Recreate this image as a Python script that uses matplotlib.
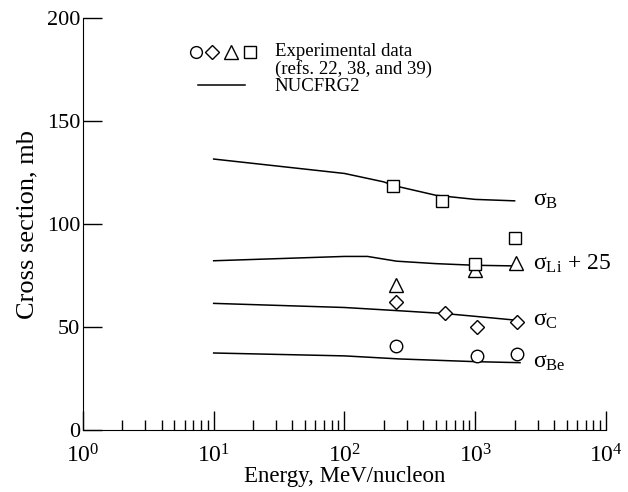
import matplotlib
matplotlib.use('Agg')
import matplotlib.pyplot as plt
from matplotlib.ticker import LogLocator, NullFormatter

plt.rcParams['font.family'] = ['Liberation Serif', 'DejaVu Serif']
plt.rcParams['mathtext.fontset'] = 'custom'
plt.rcParams['mathtext.rm'] = 'Liberation Serif'
plt.rcParams['mathtext.it'] = 'Liberation Serif'

# NUCFRG2 curves
e_b = [10, 100, 200, 235, 500, 1000, 2000]
sig_b = [131.6, 124.6, 120.5, 118.8, 114.0, 112.0, 111.3]
e_li = [10, 30, 100, 150, 250, 500, 1000, 2000]
sig_li = [82.2, 83.2, 84.3, 84.3, 82.0, 80.8, 80.0, 79.7]
e_c = [10, 100, 266, 600, 1000, 2000]
sig_c = [61.5, 59.5, 57.9, 56.5, 55.2, 53.4]
e_be = [10, 100, 266, 1000, 2200]
sig_be = [37.4, 36.0, 34.5, 33.2, 32.7]

# experimental data
x_sq = [235, 557, 2000, 1000]
y_sq = [118.4, 111.2, 93.2, 80.6]
x_tri = [247, 1000, 2050]
y_tri = [70.4, 77.7, 81.0]
x_dia = [247, 590, 1030, 2100]
y_dia = [62.1, 56.8, 50.0, 52.4]
x_circ = [247, 1030, 2100]
y_circ = [40.8, 35.9, 36.9]

curve_labels = [r'$\mathrm{\sigma_{B}}$', r'$\mathrm{\sigma_{Li}}$ + 25',
                r'$\mathrm{\sigma_{C}}$', r'$\mathrm{\sigma_{Be}}$']
label_y = [111.3, 80.5, 53.4, 32.7]

fig = plt.figure(figsize=(6.28, 4.92), dpi=100)
ax = fig.add_axes([0.132, 0.126, 0.833, 0.837])

for e, s in [(e_b, sig_b), (e_li, sig_li), (e_c, sig_c), (e_be, sig_be)]:
    ax.plot(e, s, color='black', linewidth=1.1)

mk = dict(linestyle='none', markerfacecolor='white', markeredgecolor='black',
          markeredgewidth=1.0)
ax.plot(x_circ, y_circ, marker='o', markersize=9, **mk)
ax.plot(x_dia, y_dia, marker='D', markersize=7.5, **mk)
ax.plot(x_tri, y_tri, marker='^', markersize=10, **mk)
ax.plot(x_sq, y_sq, marker='s', markersize=8, **mk)

# curve labels
for txt, y in zip(curve_labels, label_y):
    ax.text(2750, y, txt, fontsize=17, va='center')

# legend drawn by hand
lx = [0.216, 0.246, 0.284, 0.319]
for x, m, ms in zip(lx, ['o', 'D', '^', 's'], [8.5, 7, 10, 8]):
    ax.plot([x], [0.917], marker=m, markersize=ms, transform=ax.transAxes,
            clip_on=False, **mk)
ax.text(0.367, 0.919, 'Experimental data', transform=ax.transAxes,
        fontsize=13.5, va='center')
ax.text(0.367, 0.877, '(refs. 22, 38, and 39)', transform=ax.transAxes,
        fontsize=13.5, va='center')
ax.plot([0.220, 0.310], [0.838, 0.838], transform=ax.transAxes,
        color='black', linewidth=1.1)
ax.text(0.367, 0.834, 'NUCFRG2', transform=ax.transAxes,
        fontsize=13.5, va='center')

ax.set_xscale('log')
ax.set_xlim(1, 1e4)
ax.set_ylim(0, 200)
ax.set_yticks([0, 50, 100, 150, 200])
ax.xaxis.set_major_locator(LogLocator(base=10, numticks=10))
ax.xaxis.set_minor_locator(LogLocator(base=10, subs=range(2, 10), numticks=20))
ax.xaxis.set_minor_formatter(NullFormatter())
ax.spines['top'].set_visible(False)
ax.spines['right'].set_visible(False)
ax.tick_params(which='major', direction='in', length=14, width=1)
ax.tick_params(which='minor', direction='in', length=7, width=1)
ax.tick_params(axis='x', labelsize=17, pad=10)
ax.tick_params(axis='y', labelsize=16, pad=2)
ax.set_xlabel('Energy, MeV/nucleon', fontsize=16.5, labelpad=-1)
ax.set_ylabel('Cross section, mb', fontsize=19, labelpad=6)

fig.savefig('out.png', dpi=100)
